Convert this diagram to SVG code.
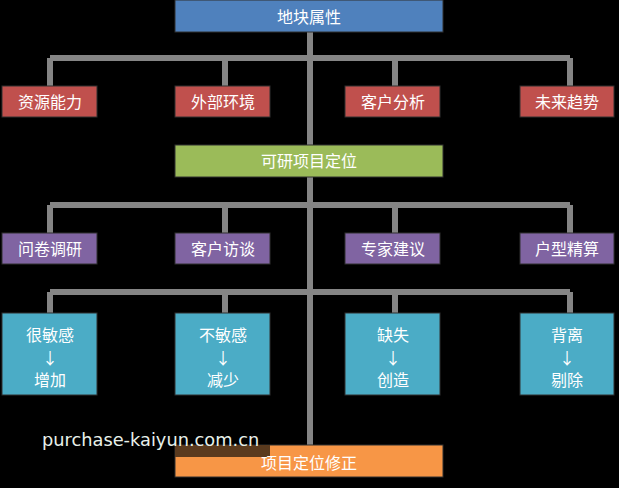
<svg xmlns="http://www.w3.org/2000/svg" width="619" height="488" viewBox="0 0 619 488">
<style>
text{font-family:"Noto Sans CJK SC","Noto Sans",sans-serif;font-size:16px;fill:#fff;text-anchor:middle}
.c{stroke:#858585;stroke-width:6;fill:none}
.b{stroke:#303030;stroke-width:1}
</style>
<rect width="619" height="488" fill="#000"/>
<g id="connectors">
<path class="c" d="M310 32V465M50 58H570M50 58V86M225 58V86M395 58V86M570 58V86"/>
<path class="c" d="M50 205H570M50 205V233M225 205V233M395 205V233M570 205V233"/>
<path class="c" d="M50 292H570M50 292V313M225 292V313M395 292V313M570 292V313"/>
</g>
<g id="n0"><rect class="b" x="175" y="0" width="268" height="32" fill="#4f81bd"/><text x="309" y="23">地块属性</text></g>
<g id="n1"><rect class="b" x="2" y="86" width="95" height="31" fill="#c0504d"/><text x="50" y="108">资源能力</text></g>
<g id="n2"><rect class="b" x="175" y="86" width="95" height="31" fill="#c0504d"/><text x="223" y="108">外部环境</text></g>
<g id="n3"><rect class="b" x="345" y="86" width="95" height="31" fill="#c0504d"/><text x="393" y="108">客户分析</text></g>
<g id="n4"><rect class="b" x="520" y="86" width="94" height="31" fill="#c0504d"/><text x="567" y="108">未来趋势</text></g>
<g id="n5"><rect class="b" x="175" y="145" width="268" height="32" fill="#9bbb59"/><text x="309" y="167">可研项目定位</text></g>
<g id="n6"><rect class="b" x="2" y="233" width="95" height="31" fill="#8064a2"/><text x="50" y="255">问卷调研</text></g>
<g id="n7"><rect class="b" x="175" y="233" width="95" height="31" fill="#8064a2"/><text x="223" y="255">客户访谈</text></g>
<g id="n8"><rect class="b" x="345" y="233" width="95" height="31" fill="#8064a2"/><text x="393" y="255">专家建议</text></g>
<g id="n9"><rect class="b" x="520" y="233" width="94" height="31" fill="#8064a2"/><text x="567" y="255">户型精算</text></g>
<g id="n10"><rect class="b" x="2" y="313" width="95" height="82" fill="#4bacc6"/><text x="50" y="341">很敏感</text><text x="50" y="364">↓</text><text x="50" y="386">增加</text></g>
<g id="n11"><rect class="b" x="175" y="313" width="95" height="82" fill="#4bacc6"/><text x="223" y="341">不敏感</text><text x="223" y="364">↓</text><text x="223" y="386">减少</text></g>
<g id="n12"><rect class="b" x="345" y="313" width="95" height="82" fill="#4bacc6"/><text x="393" y="341">缺失</text><text x="393" y="364">↓</text><text x="393" y="386">创造</text></g>
<g id="n13"><rect class="b" x="520" y="313" width="94" height="82" fill="#4bacc6"/><text x="567" y="341">背离</text><text x="567" y="364">↓</text><text x="567" y="386">剔除</text></g>
<g id="n14"><rect class="b" x="175" y="445" width="268" height="32" fill="#f79646"/><rect x="175" y="445" width="95" height="12" fill="#5a3a1e"/><text x="309" y="469">项目定位修正</text></g>
<text x="42" y="446" style="text-anchor:start;font-family:'DejaVu Sans',sans-serif;font-size:17.8px;fill:#e8f0ea">purchase-kaiyun.com.cn</text>
</svg>
